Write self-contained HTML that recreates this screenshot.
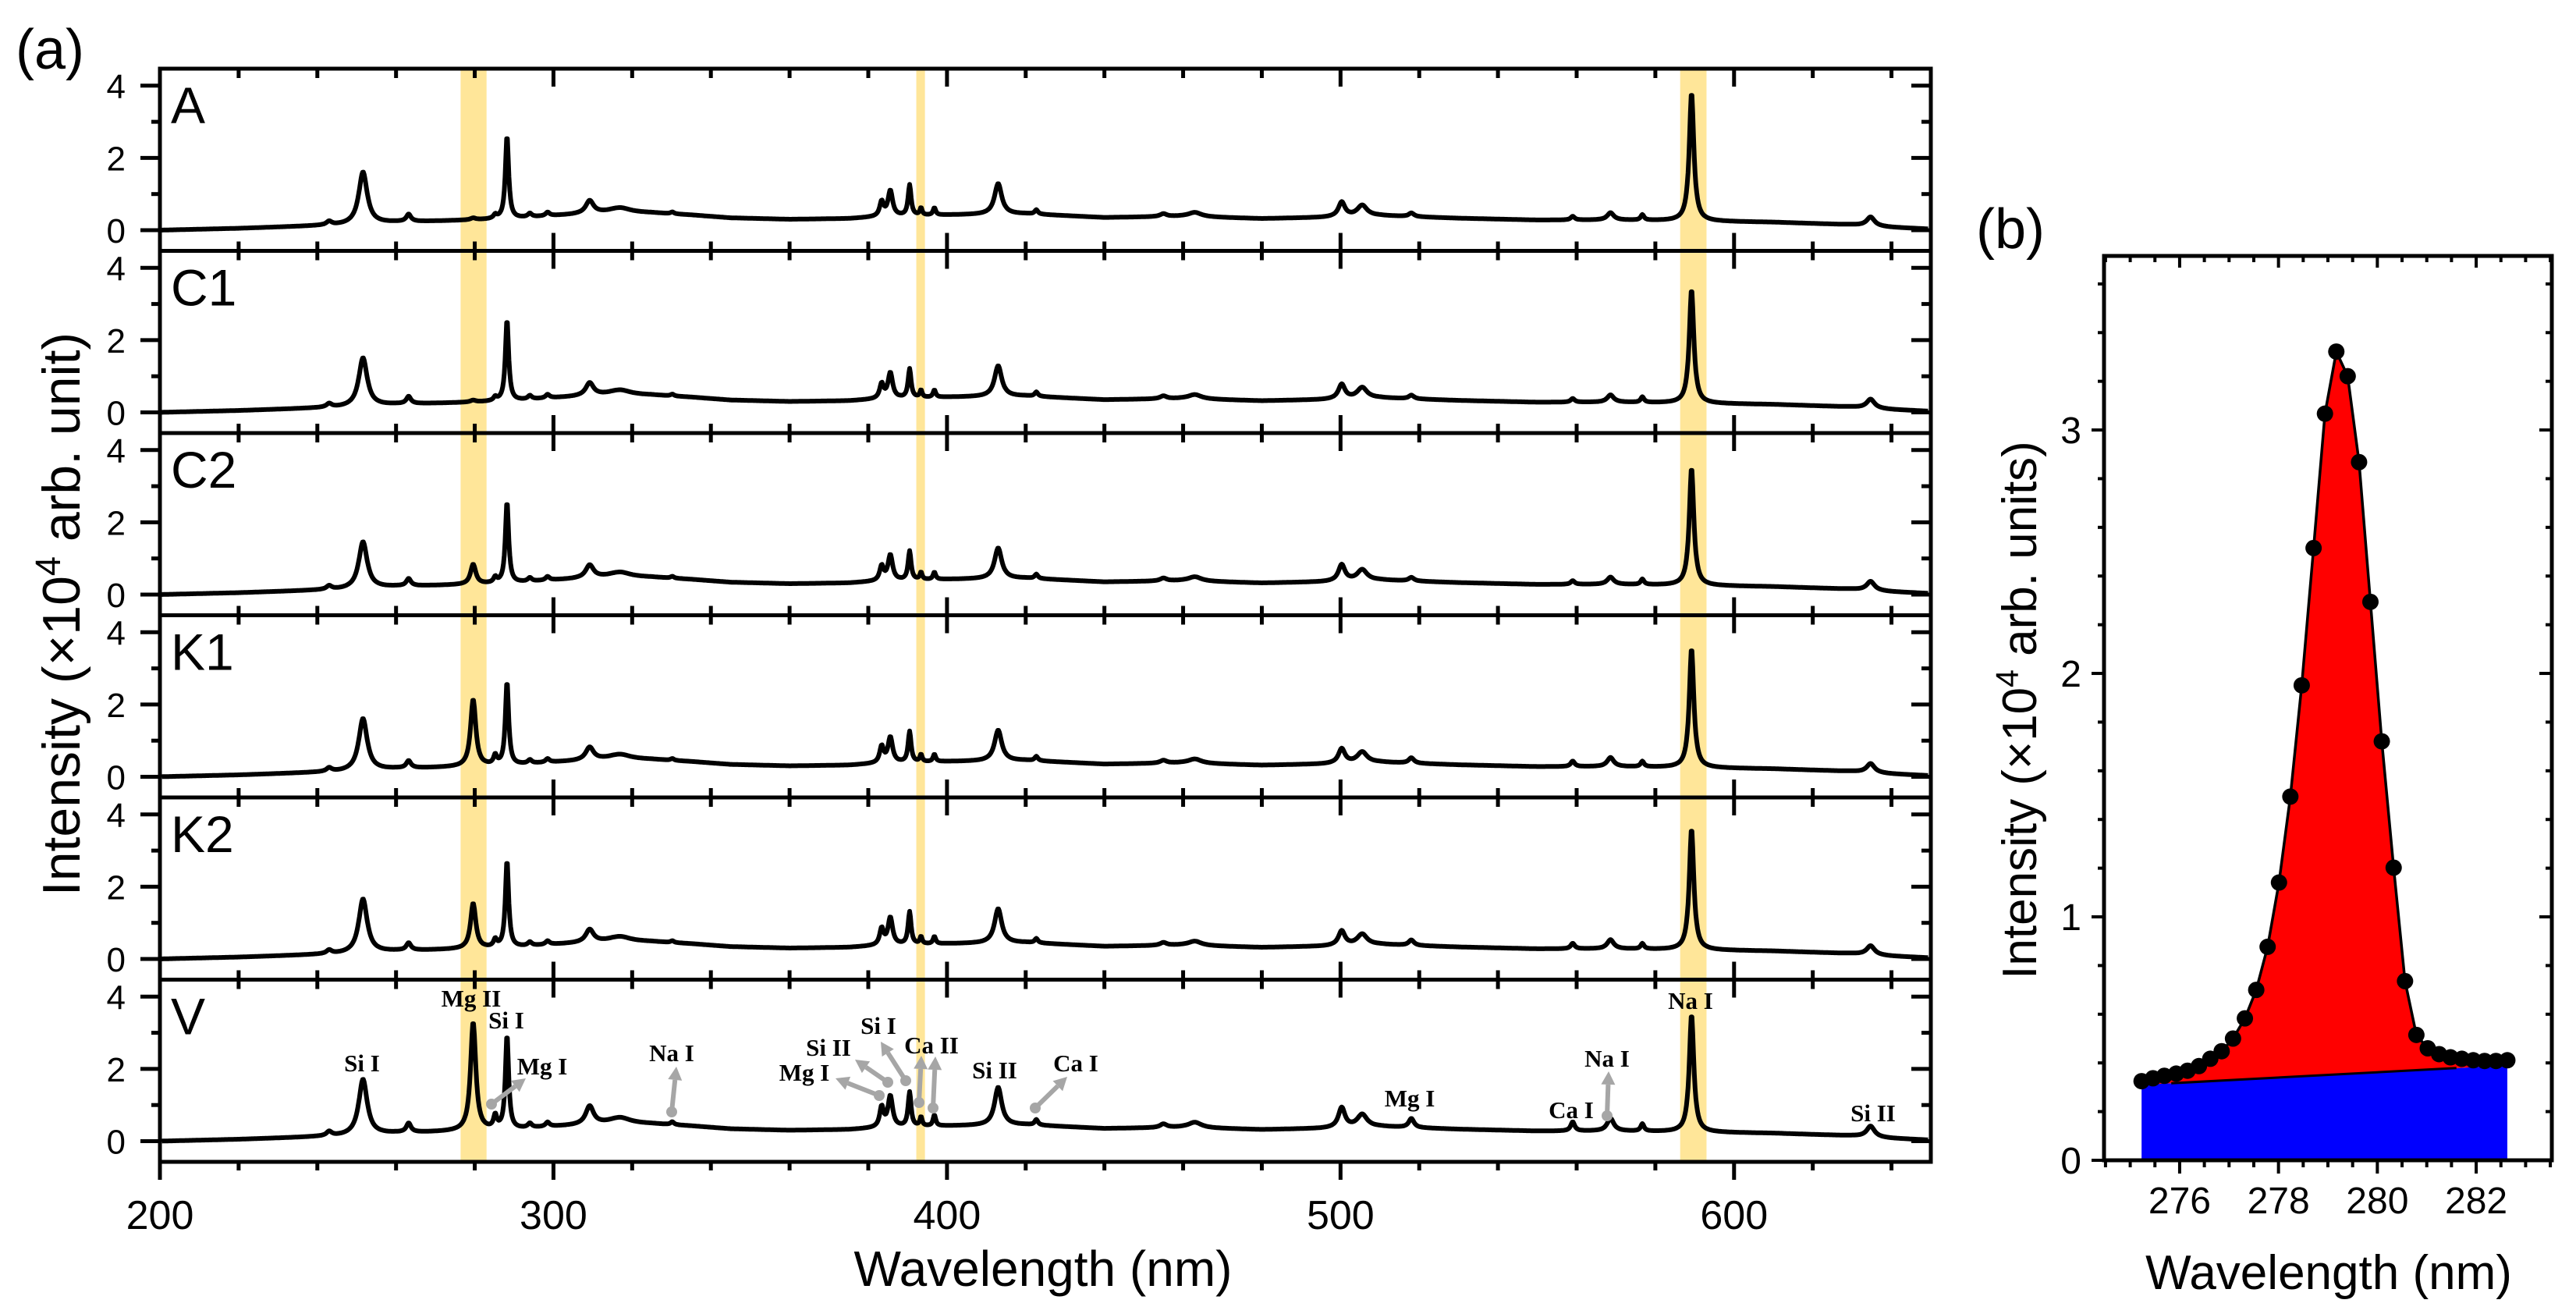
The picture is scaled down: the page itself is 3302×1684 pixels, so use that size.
<!DOCTYPE html>
<html><head><meta charset="utf-8"><style>
html,body{margin:0;padding:0;background:#fff;}
svg{display:block;}
text{font-family:"Liberation Sans",sans-serif;}
.ann{font-family:"Liberation Serif",serif;font-weight:bold;font-size:31px;text-anchor:middle;}
</style></head><body>
<svg id="fig" width="3302" height="1684" viewBox="0 0 3302 1684" xmlns="http://www.w3.org/2000/svg"></svg>
<script>
// ---------- Panel (a) data ----------
const sampleNames = ["A","C1","C2","K1","K2","V"];
const peakCenters = [243,251.6,263.2,279.6,285.2,288.2,294,298.5,309.2,317,330.2,383.4,385.6,390.5,393.4,396.8,413.0,422.7,455,463,500.3,505.5,518,559,568.6,576.7,589.2,634.7];
const peakWidths  = [0.8,1.3,0.7,0.8,0.5,0.5,0.6,0.6,1.2,3,0.5,0.6,0.7,0.45,0.35,0.4,1.1,0.5,1,2,1,1.5,0.8,0.6,1.0,0.5,0.7,1.2];
const ampsA  = [0.1,1.45,0.2,0.05,0.1,2.3,0.1,0.1,0.35,0.12,0.05,0.4,0.7,0.85,0.2,0.2,0.85,0.12,0.08,0.12,0.4,0.3,0.1,0.1,0.2,0.15,3.55,0.25];
const ampsC1 = [0.1,1.35,0.2,0.05,0.1,2.25,0.1,0.1,0.35,0.12,0.05,0.4,0.7,0.8,0.2,0.2,0.85,0.12,0.08,0.12,0.4,0.3,0.1,0.1,0.2,0.15,3.15,0.25];
const ampsC2 = [0.1,1.3,0.2,0.55,0.15,2.25,0.1,0.1,0.35,0.12,0.05,0.4,0.7,0.8,0.2,0.2,0.85,0.12,0.08,0.12,0.45,0.3,0.1,0.1,0.2,0.15,3.25,0.25];
const ampsK1 = [0.1,1.45,0.2,1.85,0.25,2.3,0.1,0.1,0.35,0.12,0.05,0.45,0.7,0.85,0.2,0.2,0.85,0.12,0.08,0.12,0.4,0.3,0.15,0.15,0.25,0.15,3.3,0.25];
const ampsK2 = [0.1,1.5,0.2,1.25,0.2,2.4,0.1,0.1,0.35,0.12,0.05,0.45,0.75,0.9,0.2,0.2,0.95,0.12,0.08,0.12,0.4,0.3,0.15,0.15,0.25,0.15,3.35,0.25];
const ampsV  = [0.12,1.55,0.25,3.0,0.35,2.6,0.12,0.12,0.5,0.15,0.08,0.55,0.85,0.95,0.25,0.3,1.05,0.15,0.1,0.15,0.55,0.35,0.25,0.25,0.35,0.2,3.25,0.3];
const sampleAmps = [ampsA,ampsC1,ampsC2,ampsK1,ampsK2,ampsV];
const baseWl  = [200,220,240,250,260,270,280,290,300,305,315,325,335,345,360,375,385,400,420,440,460,480,495,510,530,550,570,590,610,630,640,650];
const baseVal = [0.0,0.05,0.12,0.15,0.22,0.25,0.28,0.32,0.4,0.43,0.5,0.48,0.42,0.34,0.3,0.32,0.38,0.42,0.45,0.35,0.38,0.32,0.35,0.4,0.33,0.28,0.28,0.25,0.22,0.15,0.08,0.03];
const bandsLo = [276.4,392.2,586.3];
const bandsHi = [283.0,394.4,593.0];
const xTicksA = [200,300,400,500,600];
const yTicksA = [0,2,4];

// ---------- Panel (b) data ----------
const bWl = [275.23,275.46,275.69,275.93,276.16,276.39,276.62,276.85,277.08,277.32,277.55,277.78,278.01,278.24,278.47,278.71,278.94,279.17,279.40,279.63,279.86,280.09,280.33,280.56,280.79,281.02,281.25,281.48,281.71,281.94,282.17,282.40,282.63];
const bInt = [0.325,0.337,0.347,0.356,0.368,0.387,0.417,0.448,0.5,0.583,0.7,0.877,1.141,1.494,1.951,2.515,3.067,3.322,3.221,2.868,2.294,1.721,1.202,0.736,0.515,0.46,0.436,0.423,0.417,0.411,0.408,0.408,0.411];
const bBaseWl = [275.23,282.63];
const bBaseVal = [0.31,0.39];
const xTicksB = [276,278,280,282];
const yTicksB = [0,1,2,3];

const NS="http://www.w3.org/2000/svg";
const svg=document.getElementById('fig');
function el(tag,attrs,parent){const e=document.createElementNS(NS,tag);for(const k in attrs)e.setAttribute(k,attrs[k]);(parent||svg).appendChild(e);return e;}

// ---- Panel (a) geometry ----
const AX0=205, AX1=2475, WL0=200, WL1=650;
const TOP0=88, PH=233.5;
const xa = wl => AX0+(wl-WL0)*(AX1-AX0)/(WL1-WL0);
const ya = (i,v) => TOP0+i*PH+207-v*46.3;
function baseline(w){for(let k=0;k<baseWl.length-1;k++){if(w<=baseWl[k+1]){const t=(w-baseWl[k])/(baseWl[k+1]-baseWl[k]);return baseVal[k]+t*(baseVal[k+1]-baseVal[k]);}}return baseVal[baseVal.length-1];}

const gA=el('g',{});



for(let b=0;b<bandsLo.length;b++){
  const r=el('rect',{x:xa(bandsLo[b]),y:TOP0,width:xa(bandsHi[b])-xa(bandsLo[b]),height:6*PH,fill:'#ffe699'},gA);
  
  
}
for(let i=0;i<6;i++){
  const amps=sampleAmps[i];
  let d='';
  for(let w=WL0+0.5;w<=WL1-0.5;w+=0.2){
    let v=baseline(w);
    for(let p=0;p<peakCenters.length;p++){const g=peakWidths[p];const dx=w-peakCenters[p];v+=amps[p]*g*g/(dx*dx+g*g);}
    d+=(d?'L':'M')+xa(w).toFixed(1)+','+ya(i,v).toFixed(1);
  }
  const pth=el('path',{d:d,fill:'none',stroke:'#000','stroke-width':6,'stroke-linejoin':'round'},gA);
  
  
  const lab=el('text',{x:219,y:TOP0+i*PH+70,'font-size':66},gA);
  lab.textContent=sampleNames[i];
  
  
  const fr=el('rect',{x:AX0,y:TOP0+i*PH,width:AX1-AX0,height:PH,fill:'none',stroke:'#000','stroke-width':5},gA);
  
  
  for(let v=0;v<=4;v++){
    const major=v%2===0; const y=ya(i,v);
    el('line',{x1:AX0-(major?25:11),x2:AX0,y1:y,y2:y,stroke:'#000','stroke-width':5},gA);
    el('line',{x1:AX1-(major?25:12),x2:AX1,y1:y,y2:y,stroke:'#000','stroke-width':5},gA);
  }
  for(const v of yTicksA){
    const t=el('text',{x:161,y:ya(i,v)+16,'font-size':44,'text-anchor':'end'},gA);
    t.textContent=v;
    
    
  }
  for(let w=220;w<WL1;w+=20){
    const major=(w%100===0); const L=major?23:12; const x=xa(w);
    el('line',{x1:x,x2:x,y1:TOP0+i*PH,y2:TOP0+i*PH+L,stroke:'#000','stroke-width':5},gA);
    if(i<5) el('line',{x1:x,x2:x,y1:TOP0+(i+1)*PH,y2:TOP0+(i+1)*PH-L,stroke:'#000','stroke-width':5},gA);
  }
}
const BOT=TOP0+6*PH;
for(let w=200;w<=WL1;w+=20){
  const major=(w%100===0); const x=xa(w);
  el('line',{x1:x,x2:x,y1:BOT,y2:BOT+(major?23:11),stroke:'#000','stroke-width':5},gA);
}
for(const w of xTicksA){
  const t=el('text',{x:xa(w),y:1575,'font-size':52,'text-anchor':'middle'},gA);
  t.textContent=w;
  
  
}
</script>
<script>
const anns=[["Si I",464,1373],["Mg II",604,1290],["Si I",649,1318],["Mg I",695,1377],["Na I",861,1360],["Mg I",1031,1385],["Si II",1062,1353],["Si I",1126,1325],["Ca II",1194,1350],["Si II",1275,1382],["Ca I",1379,1373],["Mg I",1807,1418],["Ca I",2014,1433],["Na I",2060,1367],["Na I",2167,1293],["Si II",2401,1437]];
const arrows=[[630,1415,674,1382],[861,1425,867,1367],[1127,1404,1071,1382],[1138,1387,1096,1358],[1161,1385,1129,1335],[1178,1413,1181,1353],[1196,1420,1199,1354],[1327,1420,1368,1380],[2060,1430,2062,1373]];
const gN=el('g',{});


for(const a of arrows){
  const [x1,y1,x2,y2]=a; const dx=x2-x1,dy=y2-y1,L=Math.hypot(dx,dy),ux=dx/L,uy=dy/L,h=17,wd=9;
  const bx=x2-ux*h,by=y2-uy*h;
  el('line',{x1:x1,y1:y1,x2:bx,y2:by,stroke:'#a6a6a6','stroke-width':6},gN);
  el('circle',{cx:x1,cy:y1,r:7,fill:'#a6a6a6'},gN);
  const ar=el('polygon',{points:`${x2},${y2} ${bx-uy*wd},${by+ux*wd} ${bx+uy*wd},${by-ux*wd}`,fill:'#a6a6a6'},gN);
  
  
}
for(const a of anns){
  const t=el('text',{x:a[1],y:a[2],class:'ann'},gN);
  t.textContent=a[0];
  
  
}
let t=el('text',{x:20,y:88,'font-size':72});
t.textContent='(a)';


t=el('text',{x:1337,y:1648,'font-size':64,'text-anchor':'middle'});
t.textContent='Wavelength (nm)';


t=el('text',{x:0,y:0,'font-size':68,'text-anchor':'middle',transform:'translate(102,787) rotate(-90)'});
t.innerHTML='Intensity (×10<tspan dy="-25" font-size="45">4</tspan><tspan dy="25"> arb. unit)</tspan>';



// ---- Panel (b) ----
const BX0=2697,BX1=3271,BY0=328,BY1=1487,BW0=274.47,BW1=283.53,BV1=3.715;
const xb=w=>BX0+(w-BW0)*(BX1-BX0)/(BW1-BW0);
const yb=v=>BY1-v*(BY1-BY0)/BV1;
const gB=el('g',{});


const blin=w=>bBaseVal[0]+(w-bBaseWl[0])*(bBaseVal[1]-bBaseVal[0])/(bBaseWl[1]-bBaseWl[0]);
let d=`M${xb(bBaseWl[0])},${yb(0)} L${xb(bBaseWl[0])},${yb(bBaseVal[0])} L${xb(bBaseWl[1])},${yb(bBaseVal[1])} L${xb(bBaseWl[1])},${yb(0)} Z`;
let p=el('path',{d:d,fill:'#0000ff'},gB);


d='';
for(let k=0;k<bWl.length;k++) d+=(d?'L':'M')+xb(bWl[k])+','+yb(Math.max(bInt[k],blin(bWl[k])));
d+=`L${xb(bBaseWl[1])},${yb(bBaseVal[1])} L${xb(bBaseWl[0])},${yb(bBaseVal[0])} Z`;
p=el('path',{d:d,fill:'#ff0000'},gB);


p=el('line',{x1:xb(bBaseWl[0]+0.6),y1:yb(blin(bBaseWl[0]+0.6)),x2:xb(281.6),y2:yb(blin(281.6)),stroke:'#000','stroke-width':3},gB);


d='';
for(let k=0;k<bWl.length;k++) d+=(d?'L':'M')+xb(bWl[k])+','+yb(bInt[k]);
p=el('path',{d:d,fill:'none',stroke:'#000','stroke-width':3.5},gB);


for(let k=0;k<bWl.length;k++){
  const c=el('circle',{cx:xb(bWl[k]),cy:yb(bInt[k]),r:10.5,fill:'#000'},gB);
  
  
}
p=el('rect',{x:BX0,y:BY0,width:BX1-BX0,height:BY1-BY0,fill:'none',stroke:'#000','stroke-width':5},gB);


for(let w=274.5;w<=283.5;w+=0.5){
  const major=Math.abs(w-Math.round(w))<1e-6 && Math.round(w)%2===0; const x=xb(w);
  el('line',{x1:x,x2:x,y1:BY1,y2:BY1+(major?17:9),stroke:'#000','stroke-width':4},gB);
  el('line',{x1:x,x2:x,y1:BY0,y2:BY0+(major?15:8),stroke:'#000','stroke-width':4},gB);
}
for(let v=0;v<=3.61;v+=0.2){
  const major=Math.abs(v-Math.round(v))<1e-6; const y=yb(v);
  el('line',{x1:BX0-(major?16:8),x2:BX0,y1:y,y2:y,stroke:'#000','stroke-width':4},gB);
  el('line',{x1:BX1-(major?16:8),x2:BX1,y1:y,y2:y,stroke:'#000','stroke-width':4},gB);
}
for(const w of xTicksB){
  const tt=el('text',{x:xb(w),y:1555,'font-size':48,'text-anchor':'middle'},gB);
  tt.textContent=w;
  
  
}
for(const v of yTicksB){
  const tt=el('text',{x:2668,y:yb(v)+17,'font-size':48,'text-anchor':'end'},gB);
  tt.textContent=v;
  
  
}
t=el('text',{x:2533,y:318,'font-size':72});
t.textContent='(b)';


t=el('text',{x:2985,y:1652,'font-size':62,'text-anchor':'middle'});
t.textContent='Wavelength (nm)';


t=el('text',{x:0,y:0,'font-size':62,'text-anchor':'middle',transform:'translate(2610,910) rotate(-90)'});
t.innerHTML='Intensity (×10<tspan dy="-23" font-size="41">4</tspan><tspan dy="23"> arb. units)</tspan>';


</script>
</body></html>
